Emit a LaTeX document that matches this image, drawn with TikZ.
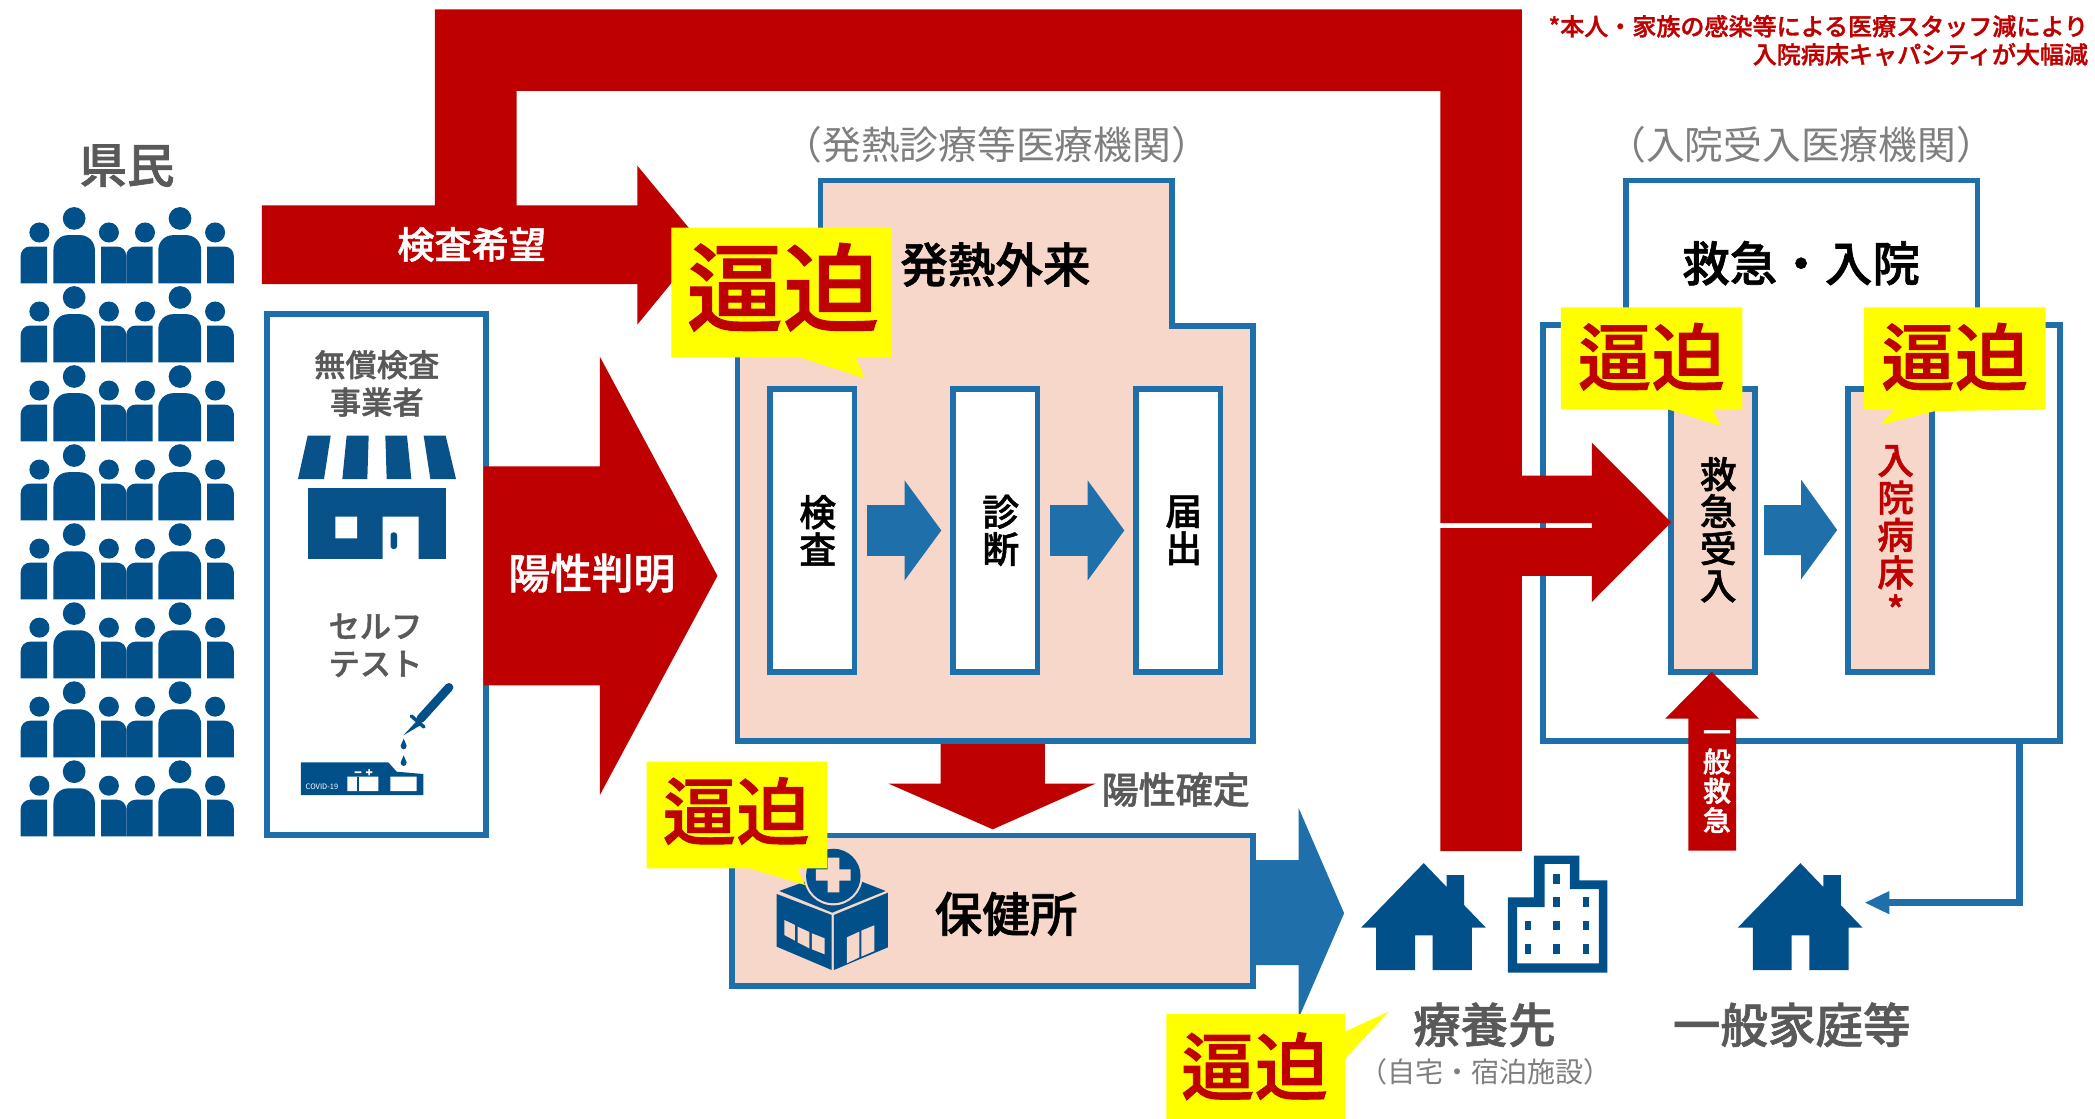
\documentclass[tikz,border=0pt]{standalone}
\usepackage{fontspec}
\setmainfont{Noto Sans CJK JP}
\newfontfamily\med[FakeBold=1.3]{Noto Sans CJK JP Medium}
\newcommand\fz[2]{\fontsize{#1}{#2}\selectfont}
\definecolor{rd}{HTML}{BE0000}
\definecolor{bl}{HTML}{1F6FAA}
\definecolor{nv}{HTML}{02508A}
\definecolor{pk}{HTML}{F7D7C9}
\definecolor{gy}{HTML}{595959}
\definecolor{lg}{HTML}{7F7F7F}
\definecolor{yl}{HTML}{FFFF00}
\tikzset{
 frame/.style={draw=bl,line width=4.3pt,miter limit=10},
 boxw/.style={frame,fill=white,inner sep=0pt,outer sep=0pt,rectangle},
 boxp/.style={frame,fill=pk,inner sep=0pt,outer sep=0pt,rectangle},
 redarrow/.style={fill=rd},
 bluearrow/.style={fill=bl},
 call/.style={fill=yl},
 calltext/.style={text=rd,font=\fz{54}{54}\bfseries,inner sep=0pt},
 tit/.style={text=gy,font=\fz{35.6}{36}\med,inner sep=0pt},
 sub/.style={text=lg,inner sep=0pt},
 small/.style={text=gy,font=\fz{23.4}{28}\med,inner sep=0pt,align=center},
 black/.style={text=black,font=\fz{35.6}{36}\med,inner sep=0pt},
 vert/.style={text=black,font=\fz{27.5}{27.8}\med,inner sep=0pt,align=center},
 icon/.style={fill=nv},
 whitetext/.style={text=white,inner sep=0pt},
 note/.style={text=rd,font=\fz{18}{21}\med,inner sep=0pt,align=right,anchor=north east},
}
\newcommand\peoplerow[1]{%
 \begin{scope}[shift={(0,#1)}]
  \foreach \h/\r in {29.5/7.5,81.5/7.5,108.5/7.5,161/7.5}{\fill[icon] (\h,19) circle[radius=\r pt];}
  \foreach \h in {55.5,134.75}{\fill[icon] (\h,8.5) circle[radius=8.5pt];}
  \fill[icon] (35.25,57) -- (35.25,29.5) -- (22.5,29.5) arc[start angle=90,end angle=180,x radius=7,y radius=-7] -- (15.5,57) -- cycle;
  \fill[icon] (94.5,57) -- (94.5,36.5) arc[start angle=0,end angle=90,x radius=7,y radius=-7] -- (75.75,29.5) -- (75.75,57) -- cycle;
  \fill[icon] (114.25,57) -- (114.25,29.5) -- (101.5,29.5) arc[start angle=90,end angle=180,x radius=7,y radius=-7] -- (94.5,57) -- cycle;
  \fill[icon] (175,57) -- (175,36.5) arc[start angle=0,end angle=90,x radius=7,y radius=-7] -- (155,29.5) -- (155,57) -- cycle;
  \fill[icon] (40,57) -- (40,32) arc[start angle=180,end angle=90,x radius=11,y radius=-11] -- (60,21) arc[start angle=90,end angle=0,x radius=11,y radius=-11] -- (71,57) -- cycle;
  \fill[icon] (118.5,57) -- (118.5,32) arc[start angle=180,end angle=90,x radius=11,y radius=-11] -- (139.5,21) arc[start angle=90,end angle=0,x radius=11,y radius=-11] -- (150.5,57) -- cycle;
 \end{scope}}
\newcommand\house[1]{%
 \begin{scope}[shift={(#1,0)}]
  \fill[icon] (0,646) -- (17.1,663.8) -- (17.1,655) -- (30.2,655) -- (30.2,677.4) -- (46.5,694.3) -- (36,694.3) -- (36,726) -- (6.7,726) -- (6.7,700) -- (-6.5,700) -- (-6.5,726) -- (-35.6,726) -- (-35.6,694.3) -- (-46.9,694.3) -- cycle;
 \end{scope}}
\begin{document}
\begin{tikzpicture}[x=1pt,y=-1pt]
\useasboundingbox (0,0) rectangle (1568,837.5);
\fill[white] (0,0) rectangle (1568,837.5);

% people
\node[tit] (kenmin) at (95,124) {県民};
\foreach \n in {0,...,7}{\pgfmathsetmacro\yy{155+59.15*\n}\peoplerow{\yy}}

% shops frame
\node[boxw,minimum width=164pt,minimum height=390pt] (shopframe) at (282,430) {};
\node[small] (shoplabel) at (282,287) {無償検査\\事業者};
\begin{scope}[shift={(202.08,314.35)},x=.2495pt,y=-.2495pt]
 \fill[icon,fill=nv!95!gray] (113,47) -- (182,47) -- (162,177) -- (84,177) -- cycle
  (230,47) -- (296,47) -- (292,177) -- (217,177) -- cycle
  (346,47) -- (411,47) -- (424,177) -- (350,177) -- cycle
  (461,47) -- (527,47) -- (558,177) -- (481,177) -- cycle;
 \fill[icon,fill=nv!95!gray] (115,203) rectangle (527,417);
 \fill[white] (338,290) rectangle (446,420) (196,290) rectangle (261,355);
 \fill[icon,rounded corners=2pt] (362,337) rectangle (381,387);
\end{scope}
\node[small] (selflabel) at (281,483) {セルフ\\テスト};
\begin{scope}[shift={(187.1,434.1)},x=.2495pt,y=-.2495pt]
 \fill[icon] (153,547) -- (415,547) -- (440,575) -- (520,582) -- (520,645) -- (153,645) -- cycle;
 \fill[white] (292,590) rectangle (385,633) (421,590) rectangle (500,633);
 \fill[icon] (320,590) rectangle (327,633);
 \fill[white] (314,574) rectangle (334,579) (348,574) rectangle (367,579) (355,567) rectangle (360,586);
 \node[whitetext,font=\fz{5.6}{6}] (covid) at (216,620) {COVID-19};
 \draw[nv,line width=6.5pt,line cap=round] (597,322) -- (512,416);
 \draw[nv,line width=2.6pt,line cap=round] (484,408) -- (522,441);
 \fill[icon] (503,420) -- (516,433) -- (460,466) -- cycle;
 \fill[icon] (461,476) -- (470,497) arc[start angle=0,end angle=180,x radius=9,y radius=11] -- cycle;
 \fill[icon] (461,526) -- (470,547) arc[start angle=0,end angle=180,x radius=9,y radius=11] -- cycle;
\end{scope}

% fever clinic
\node[sub,font=\fz{29}{29}] (feverorg) at (746,108) {（発熱診療等医療機関）};
\path[frame,fill=pk] (614,135) -- (877,135) -- (877,244) -- (938,244) -- (938,554.5) -- (552,554.5) -- (552,244) -- (614,244) -- cycle;
\node[black] (fever) at (745,198) {発熱外来};
\node[boxw,minimum width=63pt,minimum height=212pt] (box1) at (608,397) {};
\node[boxw,minimum width=63pt,minimum height=212pt] (box2) at (745,397) {};
\node[boxw,minimum width=63pt,minimum height=212pt] (box3) at (882,397) {};
\node[vert] (t1) at (612,397) {検\\査};
\node[vert] (t2) at (749,397) {診\\断};
\node[vert] (t3) at (886,397) {届\\出};
\foreach \a in {649,786}{
 \fill[bluearrow] (\a,378) -- ++(28,0) -- ++(0,-18.5) -- ++(27.5,37.5) -- ++(-27.5,37.5) -- ++(0,-18.5) -- ++(-28,0) -- cycle;}

% public health centre
\node[boxp,minimum width=390pt,minimum height=112.5pt] (hoken) at (743,681.5) {};
\begin{scope}[shift={(561.3,613.7)},x=.2495pt,y=-.2495pt]
 \fill[icon] (80,222) -- (245,285) -- (245,450) -- (80,380) -- cycle;
 \fill[icon] (252,285) -- (414,218) -- (414,382) -- (252,450) -- cycle;
 \fill[icon] (88,213) -- (170,183) -- (330,183) -- (407,213) -- (247,278) -- cycle;
 \fill[pk] (250,168) circle[radius=22pt];
 \fill[icon] (250,168) circle[radius=20.4pt];
 \fill[pk] (198,148) rectangle (302,182) (233,113) rectangle (268,217);
 \fill[pk] (103,300) -- (135,315) -- (135,362) -- (103,345) -- cycle
  (143,320) -- (178,336) -- (178,385) -- (143,367) -- cycle
  (186,340) -- (224,355) -- (224,403) -- (186,388) -- cycle
  (291,352) -- (328,335) -- (328,412) -- (291,430) -- cycle
  (334,332) -- (373,316) -- (373,393) -- (334,410) -- cycle;
\end{scope}
\node[black] (hokentxt) at (753,684) {保健所};

% hospital
\node[sub,font=\fz{29}{29}] (hosporg) at (1348,108) {（入院受入医療機関）};
\path[frame,fill=white] (1217,135) -- (1480,135) -- (1480,243.5) -- (1542,243.5) -- (1542,554.7) -- (1155,554.7) -- (1155,243.5) -- (1217,243.5) -- cycle;
\coordinate (hospout) at (1511.7,555);
\coordinate (hospbend) at (1511.7,675.6);
\coordinate (homein) at (1414,675.6);
\node[black] (er) at (1348,197) {救急・入院};
\node[boxp,minimum width=63pt,minimum height=212pt] (box4) at (1282,397) {};
\node[boxp,minimum width=62.5pt,minimum height=212pt] (box5) at (1414.5,397) {};
\node[vert] (t4) at (1286,396.5) {救\\急\\受\\入};
\node[vert,text=rd,font=\fz{27.5}{28}\med] (t5) at (1418.8,400) {入\\院\\病\\床\\*};
\fill[bluearrow] (1320.4,378) -- (1348,378) -- (1348,359) -- (1375,396.7) -- (1348,433.6) -- (1348,415.4) -- (1320.4,415.4) -- cycle;

% connector to household
\draw[bl,line width=5.5pt] (hospout) -- (hospbend) -- (homein);
\fill[bl] (1414,666.9) -- (1396,675.6) -- (1414,684.3) -- cycle;

% red arrows
\fill[redarrow] (325.5,7) -- (1139,7) -- (1139,356) -- (1191.5,356) -- (1191.5,331.4) -- (1250.8,390.9) -- (1191.5,450.4) -- (1191.5,431) -- (1139,431) -- (1139,637) -- (1078,637) -- (1078,395.3) -- (1191.5,395.3) -- (1191.5,391.5) -- (1078,391.5) -- (1078,68) -- (386.7,68) -- (386.7,153.7) -- (477,153.7) -- (477,124) -- (526,183.2) -- (477,243) -- (477,212.6) -- (196,212.6) -- (196,153.7) -- (325.5,153.7) -- cycle;
\node[whitetext,font=\fz{27.8}{28}\med] (req) at (353,183) {検査希望};
\fill[redarrow] (362,349) -- (449,349) -- (449,267) -- (537,431) -- (449,595) -- (449,513) -- (362,513) -- cycle;
\node[whitetext,font=\fz{31.2}{32}\med] (pos) at (443,429) {陽性判明};
\fill[redarrow] (704,557) -- (782,557) -- (782,586.5) -- (820,586.5) -- (743,620.7) -- (665,586.5) -- (704,586.5) -- cycle;
\node[text=gy,font=\fz{27.7}{28}\med,inner sep=0pt] (conf) at (880,591) {陽性確定};
\fill[redarrow] (1281,502.8) -- (1316.6,537.9) -- (1299.4,537.9) -- (1299.4,636.7) -- (1263.7,636.7) -- (1263.7,537.9) -- (1246.3,537.9) -- cycle;
\node[whitetext,font=\fz{21}{22}\med,align=center] (gen) at (1285,585) {一\\般\\救\\急};

% blue arrow to destinations
\fill[bluearrow] (938,643.7) -- (972,643.7) -- (972,604.8) -- (1006,683.5) -- (972,762) -- (972,722.3) -- (938,722.3) -- cycle;

% homes
\house{1065.6}
\house{1347.5}
\fill[icon,even odd rule] (1148,640.4) -- (1182,640.4) -- (1182,658.9) -- (1203,658.9) -- (1203,728) -- (1128.5,728) -- (1128.5,671.6) -- (1148,671.6) -- cycle
 (1156,646.5) -- (1175,646.5) -- (1175,665.5) -- (1196.6,665.5) -- (1196.6,721) -- (1135.5,721) -- (1135.5,679) -- (1156,679) -- cycle;
\foreach \p/\q in {1165/658,1165/675,1187/675,1143.6/692.8,1165/692.8,1187/692.8,1143.6/710.3,1165/710.3,1187/710.3}{
 \fill[icon] (\p-2.5,\q-3.5) rectangle (\p+2.5,\q+3.5);}
\node[tit] (dest) at (1111,767) {療養先};
\node[sub,font=\fz{21}{21}] (destsub) at (1112,802) {（自宅・宿泊施設）};
\node[tit] (homes) at (1341,767) {一般家庭等};

% notes
\node[note] (note) at (1563,11) {*本人・家族の感染等による医療スタッフ減により\\入院病床キャパシティが大幅減};

% callouts
\fill[call] (502.5,170.4) -- (667.4,170.4) -- (667.4,267.5) -- (640.5,267.5) -- (647.4,283.2) -- (598.8,267.5) -- (502.5,267.5) -- cycle;
\node[calltext,font=\fz{72}{72}\med] (c1) at (586,215) {逼迫};
\fill[call] (484,570) -- (619.2,570) -- (619.2,650) -- (597,650) -- (602.5,662.4) -- (561,650) -- (484,650) -- cycle;
\node[calltext,font=\fz{55}{55}\med] (c2) at (551,607) {逼迫};
\fill[call] (873,759) -- (1007,759) -- (1007,772) -- (1039.6,757) -- (1007,792) -- (1007,837.5) -- (873,837.5) -- cycle;
\node[calltext,font=\fz{55}{55}\med] (c3) at (939,798) {逼迫};
\fill[call] (1168.2,230) -- (1304,230) -- (1304,306.6) -- (1282,306.6) -- (1288,318.9) -- (1249,306.6) -- (1168.2,306.6) -- cycle;
\node[calltext,font=\fz{55}{55}\med] (c4) at (1236,267) {逼迫};
\fill[call] (1395.2,230) -- (1531,230) -- (1531,306.6) -- (1448.5,307.6) -- (1407.4,318) -- (1417.7,306.6) -- (1395.2,306.6) -- cycle;
\node[calltext,font=\fz{55}{55}\med] (c5) at (1463,267) {逼迫};
\end{tikzpicture}
\end{document}
